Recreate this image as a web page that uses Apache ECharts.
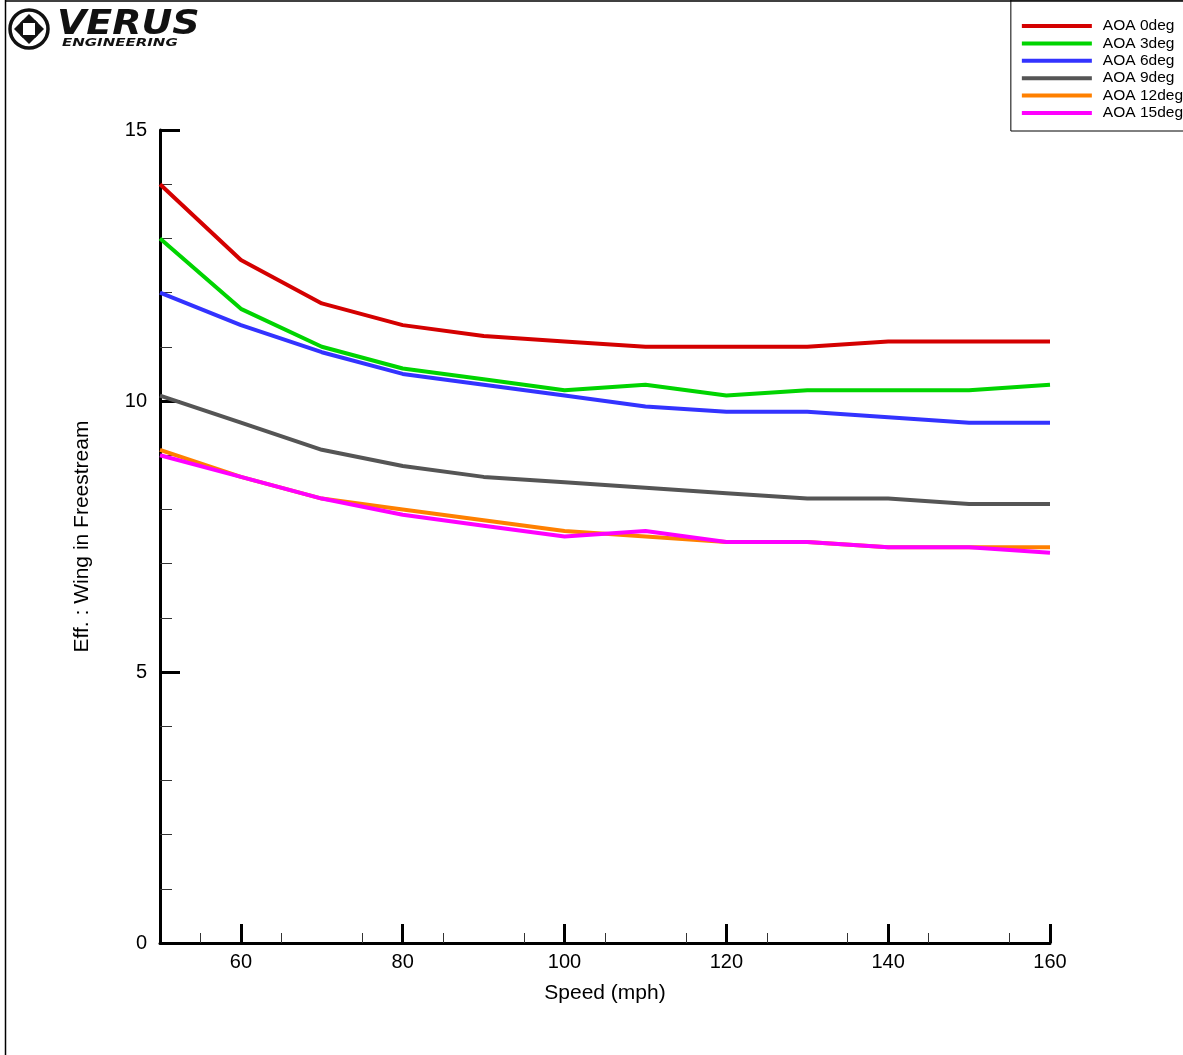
<!DOCTYPE html>
<html>
<head>
<meta charset="utf-8">
<script src="https://cdn.jsdelivr.net/npm/echarts@6/dist/echarts.min.js"></script>
<style>
  html, body { margin: 0; padding: 0; background: #fff; }
  #chart { width: 1183px; height: 1055px; }
</style>
</head>
<body>
<div id="chart"></div>
<script>
// speed (mph)
const speeds = [50, 60, 70, 80, 90, 100, 110, 120, 130, 140, 150, 160]

// efficiency per angle of attack
const aoa0 = [14.0, 12.6, 11.8, 11.4, 11.2, 11.1, 11.0, 11.0, 11.0, 11.1, 11.1, 11.1]
const aoa3 = [13.0, 11.7, 11.0, 10.6, 10.4, 10.2, 10.3, 10.1, 10.2, 10.2, 10.2, 10.3]
const aoa6 = [12.0, 11.4, 10.9, 10.5, 10.3, 10.1, 9.9, 9.8, 9.8, 9.7, 9.6, 9.6]
const aoa9 = [10.1, 9.6, 9.1, 8.8, 8.6, 8.5, 8.4, 8.3, 8.2, 8.2, 8.1, 8.1]
const aoa12 = [9.1, 8.6, 8.2, 8.0, 7.8, 7.6, 7.5, 7.4, 7.4, 7.3, 7.3, 7.3]
const aoa15 = [9.0, 8.6, 8.2, 7.9, 7.7, 7.5, 7.6, 7.4, 7.4, 7.3, 7.3, 7.2]

const seriesNames = ['AOA 0deg', 'AOA 3deg', 'AOA 6deg', 'AOA 9deg', 'AOA 12deg', 'AOA 15deg']
const seriesData = [aoa0, aoa3, aoa6, aoa9, aoa12, aoa15]
const colors = ['#d40000', '#00d400', '#3333ff', '#555555', '#ff8000', '#ff00ff']

// major x ticks (minor ticks every 5)
const xMajor = [60, 80, 100, 120, 140, 160]

const font = 'Liberation Sans, Arial, sans-serif'

const chart = echarts.init(document.getElementById('chart'))

const pairs = (arr) => speeds.map((s, i) => [s, arr[i]])

const option = {
  animation: false,
  backgroundColor: '#fff',
  color: colors,
  grid: { left: 160, right: 133, top: 130, bottom: 112 },
  legend: {
    orient: 'vertical',
    right: -8,
    top: 0,
    icon: 'rect',
    itemWidth: 70,
    itemHeight: 4,
    itemGap: 1.4,
    padding: [18, 8, 10, 11],
    borderColor: '#000',
    borderWidth: 1,
    textStyle: { fontFamily: font, fontSize: 15.5, color: '#000', lineHeight: 15, padding: [0, 0, 0, 6] },
    data: seriesNames
  },
  xAxis: {
    type: 'value',
    min: 50,
    max: 160,
    interval: 10,
    name: 'Speed (mph)',
    nameLocation: 'middle',
    nameGap: 40,
    nameTextStyle: { fontFamily: font, fontSize: 21, color: '#000' },
    axisLine: { show: true, onZero: false, lineStyle: { color: '#000', width: 3 } },
    axisTick: { show: true, inside: true, length: 19, lineStyle: { color: '#000', width: 3 }, customValues: xMajor },
    minorTick: { show: true, splitNumber: 2, length: 10, lineStyle: { color: '#333', width: 1 } },
    axisLabel: { fontFamily: font, fontSize: 20, color: '#000', margin: 9, customValues: xMajor },
    splitLine: { show: false }
  },
  yAxis: {
    type: 'value',
    min: 0,
    max: 15,
    interval: 5,
    name: 'Eff. : Wing in Freestream',
    nameLocation: 'middle',
    nameGap: 67,
    nameRotate: 90,
    nameTextStyle: { fontFamily: font, fontSize: 21, color: '#000' },
    axisLine: { show: true, onZero: false, lineStyle: { color: '#000', width: 3 } },
    axisTick: { show: true, inside: true, length: 20, lineStyle: { color: '#000', width: 3 } },
    minorTick: { show: true, splitNumber: 5, length: 12, lineStyle: { color: '#333', width: 1 } },
    axisLabel: { fontFamily: font, fontSize: 20, color: '#000', margin: 13 },
    splitLine: { show: false }
  },
  series: seriesNames.map((name, i) => ({
    name,
    type: 'line',
    data: pairs(seriesData[i]),
    showSymbol: false,
    lineStyle: { width: 4, color: colors[i] },
    itemStyle: { color: colors[i] },
    z: 2 + i
  })),
  graphic: [
    // page border (left and top)
    { type: 'line', shape: { x1: 5.5, y1: 0, x2: 5.5, y2: 1055 }, style: { stroke: '#000', lineWidth: 1.5 } },
    { type: 'line', shape: { x1: 5, y1: 1, x2: 1183, y2: 1 }, style: { stroke: '#000', lineWidth: 1.5 } },
    // logo
    { type: 'circle', shape: { cx: 29, cy: 29, r: 19 }, style: { fill: 'none', stroke: '#111', lineWidth: 3.5 } },
    { type: 'polygon', shape: { points: [[29, 14], [20, 23], [38, 23]] }, style: { fill: '#111' } },
    { type: 'polygon', shape: { points: [[29, 44], [20, 35], [38, 35]] }, style: { fill: '#111' } },
    { type: 'polygon', shape: { points: [[14, 29], [23, 20], [23, 38]] }, style: { fill: '#111' } },
    { type: 'polygon', shape: { points: [[44, 29], [35, 20], [35, 38]] }, style: { fill: '#111' } },
    { type: 'rect', shape: { x: 23, y: 23, width: 12, height: 12 }, style: { fill: '#fff' } },
    { type: 'text', x: 57, y: 25, scaleX: 1.15, style: { text: 'VERUS', verticalAlign: 'middle', font: 'italic 900 33px "DejaVu Sans", sans-serif', fill: '#111' } },
    { type: 'text', x: 62, y: 43, scaleX: 1.5, style: { text: 'ENGINEERING', verticalAlign: 'middle', font: 'italic bold 10px "DejaVu Sans", sans-serif', fill: '#111' } }
  ]
}

chart.setOption(option)
</script>
</body>
</html>
